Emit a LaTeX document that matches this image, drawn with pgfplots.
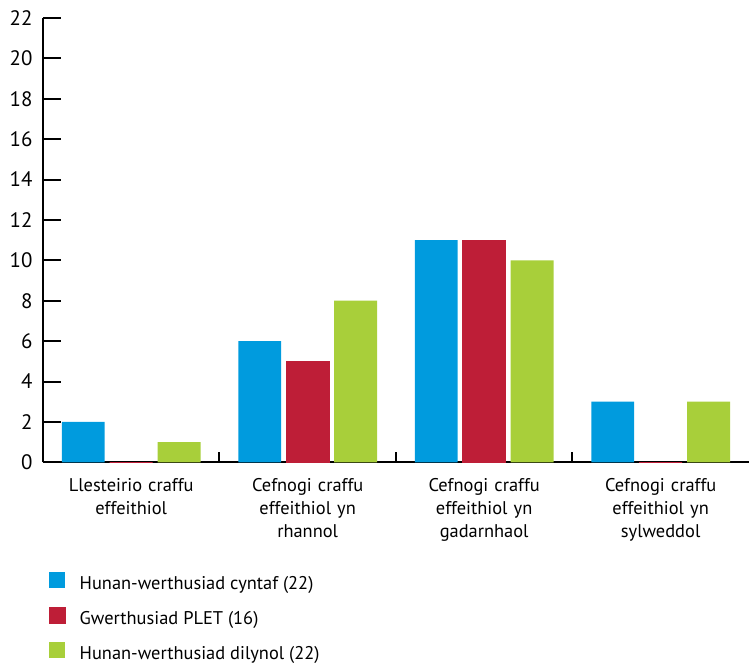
\documentclass[border=0pt]{standalone}
\usepackage{fontspec}
\setmainfont{PT Sans}
\usepackage{pgfplots}
\pgfplotsset{compat=1.18}
\definecolor{cblue}{RGB}{0,155,222}
\definecolor{cred}{RGB}{190,30,55}
\definecolor{cgreen}{RGB}{168,207,58}
\newcommand{\lf}{\fontsize{18.5}{23}\selectfont}
\newcommand{\nf}{\fontsize{21}{23}\selectfont}
\begin{document}
\begin{tikzpicture}
\begin{axis}[
  scale only axis, width=707bp, height=445bp,
  xmin=-0.5, xmax=3.5, ymin=0, ymax=22,
  axis x line=bottom, axis y line=left,
  axis line style={line width=2.2bp, -},
  ybar=5bp, bar width=43bp,
  tick align=inside,
  major tick length=18bp, minor tick length=10bp,
  tick style={line width=2bp, black},
  xtick={0,1,2,3},
  xticklabels={{Llesteirio craffu\\effeithiol},{Cefnogi craffu\\effeithiol yn\\rhannol},{Cefnogi craffu\\effeithiol yn\\gadarnhaol},{Cefnogi craffu\\effeithiol yn\\sylweddol}},
  major x tick style={draw=none},
  minor xtick={0.5,1.5,2.5},
  xticklabel style={align=center, text width=170bp, font=\lf, anchor=north, yshift=-13bp},
  ytick={0,2,...,22},
  yticklabel style={font=\nf, xshift=-7bp},
  /pgf/number format/assume math mode=true,
  legend style={at={(rel axis cs:0,0)}, anchor=north west, xshift=3bp, yshift=-108bp,
    draw=none, fill=none, font=\lf, row sep=12bp,
    nodes={inner sep=1bp, text height=13bp, text depth=4bp},
    /tikz/every odd column/.append style={column sep=13bp}},
  legend cell align=left,
  legend image code/.code={\fill[#1] (0bp,-3bp) rectangle (16bp,13bp);},
]
\addplot[fill=cblue, draw=none] coordinates {(0,2) (1,6) (2,11) (3,3)};
\addplot[fill=cred, draw=cred, line width=0.6bp] coordinates {(0,0) (1,5) (2,11) (3,0)};
\addplot[fill=cgreen, draw=none] coordinates {(0,1) (1,8) (2,10) (3,3)};
\legend{Hunan-werthusiad cyntaf (22), Gwerthusiad PLET (16), Hunan-werthusiad dilynol (22)}
\end{axis}
\path (current axis.south west) ++(-43bp,-198bp);
\path (current axis.north east) ++(0,18bp);
\end{tikzpicture}
\end{document}
